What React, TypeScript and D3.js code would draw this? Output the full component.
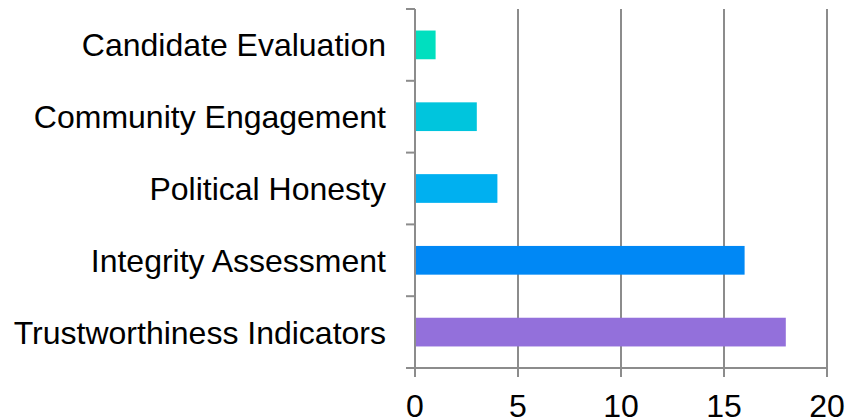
import React from "react";
import * as d3 from "d3";

// categories top to bottom
const categories = [
  "Candidate Evaluation",
  "Community Engagement",
  "Political Honesty",
  "Integrity Assessment",
  "Trustworthiness Indicators",
];
const values = [1, 3, 4, 16, 18];
const barColors = ["#00dfbf", "#00c5dd", "#00b0f0", "#0088f5", "#9370db"];
const xTicks = [0, 5, 10, 15, 20];

const width = 849;
const height = 420;
const margin = { top: 9, right: 22, bottom: 52, left: 415 };
const axisColor = "#8c8c8c";
const font = "Arial, 'Liberation Sans', sans-serif";

export default function App() {
  const xScale = d3
    .scaleLinear()
    .domain([0, 20])
    .range([margin.left, width - margin.right]);

  const yScale = d3
    .scaleBand<string>()
    .domain(categories)
    .range([margin.top, height - margin.bottom])
    .paddingInner(0.6)
    .paddingOuter(0.3);

  const y0 = margin.top;
  const y1 = height - margin.bottom;
  const step = yScale.step();
  const boundaries = d3.range(categories.length + 1).map((i) => y0 + i * step);

  return (
    <div style={{ position: "absolute", left: 0, top: 0 }}>
      <svg width={width} height={height} style={{ display: "block" }}>
        {/* vertical gridlines + bottom ticks */}
        {xTicks.map((t) => (
          <g key={t}>
            <line
              x1={xScale(t)}
              x2={xScale(t)}
              y1={t === 0 ? y0 : y0}
              y2={y1 + 9}
              stroke={axisColor}
              strokeWidth={2}
            />
            <text
              x={xScale(t)}
              y={417}
              textAnchor="middle"
              fontFamily={font}
              fontSize={32}
              fill="#000"
            >
              {t}
            </text>
          </g>
        ))}

        {/* bottom axis line */}
        <line
          x1={xScale(0) - 9}
          x2={xScale(20)}
          y1={y1}
          y2={y1}
          stroke={axisColor}
          strokeWidth={2}
        />

        {/* category ticks */}
        {boundaries.map((b, i) => (
          <line
            key={i}
            x1={xScale(0) - 9}
            x2={xScale(0)}
            y1={b}
            y2={b}
            stroke={axisColor}
            strokeWidth={2}
          />
        ))}

        {/* bars */}
        {categories.map((c, i) => (
          <rect
            key={c}
            x={xScale(0) + 1}
            y={yScale(c)}
            width={xScale(values[i]) - xScale(0) - 1}
            height={yScale.bandwidth()}
            fill={barColors[i]}
          />
        ))}

        {/* category labels */}
        {categories.map((c) => (
          <text
            key={c}
            x={386}
            y={(yScale(c) ?? 0) + yScale.bandwidth() / 2}
            dy="0.36em"
            textAnchor="end"
            fontFamily={font}
            fontSize={32}
            fill="#000"
          >
            {c}
          </text>
        ))}
      </svg>
    </div>
  );
}
